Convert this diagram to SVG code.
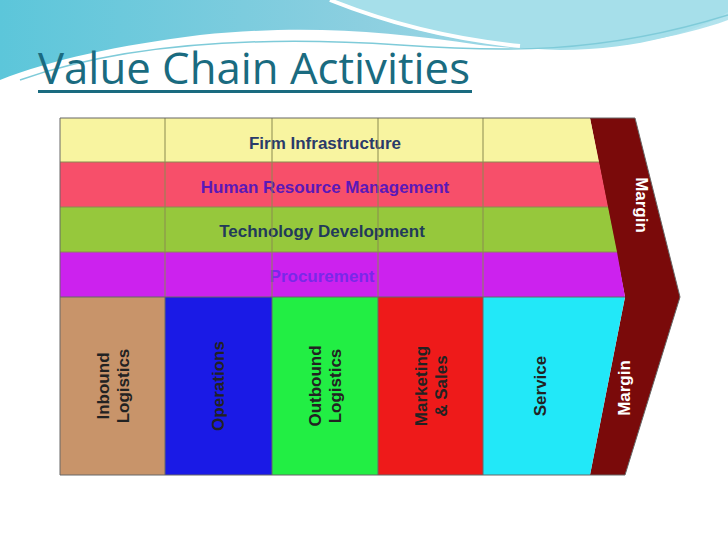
<svg xmlns="http://www.w3.org/2000/svg" width="728" height="546" viewBox="0 0 728 546">
<defs>
<linearGradient id="wv" x1="0" y1="0" x2="1" y2="0"><stop offset="0" stop-color="#5cc6da"/><stop offset="0.5" stop-color="#8ccfe0"/><stop offset="1" stop-color="#b4e4ee"/></linearGradient>
<style>
.lbl{font-family:"Liberation Sans",Arial,sans-serif;font-weight:bold;font-size:17px;text-anchor:middle}
.vl{font-family:"Liberation Sans",Arial,sans-serif;font-weight:bold;font-size:17px;text-anchor:middle;fill:#222}
.sep{stroke:#8a8a50;stroke-width:1}
</style>
</defs>
<rect width="728" height="546" fill="#fff"/>
<g id="background">
<path d="M0 0 H728 V20 C660 45 560 55 480 45 C380 30 300 25 200 35 C120 45 50 60 0 80 Z" fill="url(#wv)"/>
<path d="M330 0 C400 30 480 48 560 50 C640 50 700 30 728 12 V0 Z" fill="#a6dfea"/>
<path d="M330 0 C380 20 440 38 520 46" stroke="#fff" stroke-width="4" fill="none"/>
<path d="M20 80 C120 45 250 35 400 45 C500 52 600 55 728 15" stroke="#7fcbd9" stroke-width="1.5" fill="none"/>
</g>
<g id="title">
<text x="38" y="84" font-family="Open Sans,'Liberation Sans',sans-serif" font-size="43" fill="#1a6b80" textLength="432" lengthAdjust="spacingAndGlyphs">Value Chain Activities</text>
<rect x="38" y="90" width="434" height="3" fill="#1a6b80"/>
</g>
<g id="margin"><path d="M590 118 H635 L680 297 L625 475 H590 L625 297 Z" fill="#7a0a0a"/>
<text class="lbl" fill="#fff" transform="translate(636 205) rotate(90)">Margin</text>
<text class="lbl" fill="#fff" transform="translate(630 388) rotate(-90)">Margin</text></g>
<g id="firm"><path d="M60 118 H590 L599 162 H60 Z" fill="#f8f4a0"/><text class="lbl" x="325" y="149" fill="#2a3a6a">Firm Infrastructure</text></g>
<g id="hrm"><path d="M60 162 H599 L608 207 H60 Z" fill="#f74f6a"/><text class="lbl" x="325" y="193" fill="#5a18b8">Human Resource Management</text></g>
<g id="tech"><path d="M60 207 H608 L617 252 H60 Z" fill="#96c83c"/><text class="lbl" x="322" y="237" fill="#223a5a">Technology Development</text></g>
<g id="proc"><path d="M60 252 H617 L625 297 H60 Z" fill="#cc22ee"/><text class="lbl" x="322" y="282" fill="#7a28e8">Procurement</text></g>
<g id="lines">
<line class="sep" x1="165" y1="118" x2="165" y2="297"/><line class="sep" x1="272" y1="118" x2="272" y2="297"/>
<line class="sep" x1="378" y1="118" x2="378" y2="297"/><line class="sep" x1="483" y1="118" x2="483" y2="297"/>
<line class="sep" x1="60" y1="162" x2="599" y2="162"/><line class="sep" x1="60" y1="207" x2="608" y2="207"/><line class="sep" x1="60" y1="252" x2="617" y2="252"/>
</g>
<g id="inbound"><rect x="60" y="297" width="105" height="178" fill="#c8946a"/><text class="vl" transform="translate(112 386) rotate(-90)"><tspan x="0" dy="-3">Inbound</tspan><tspan x="0" dy="20">Logistics</tspan></text></g>
<g id="operations"><rect x="165" y="297" width="107" height="178" fill="#1a1ae6"/><text class="vl" transform="translate(224 386) rotate(-90)">Operations</text></g>
<g id="outbound"><rect x="272" y="297" width="106" height="178" fill="#22ee44"/><text class="vl" transform="translate(324 386) rotate(-90)"><tspan x="0" dy="-3">Outbound</tspan><tspan x="0" dy="20">Logistics</tspan></text></g>
<g id="marketing"><rect x="378" y="297" width="105" height="178" fill="#ee1a1a"/><text class="vl" transform="translate(430 386) rotate(-90)"><tspan x="0" dy="-3">Marketing</tspan><tspan x="0" dy="20">&amp; Sales</tspan></text></g>
<g id="service"><path d="M483 297 H625 L590 475 H483 Z" fill="#22e8f8"/><text class="vl" transform="translate(546 386) rotate(-90)">Service</text></g>
<g id="borders" fill="none" stroke="#666" stroke-width="1">
<path d="M60 118 H635 L680 297 L625 475 H60 Z"/>
<line x1="60" y1="297" x2="625" y2="297"/>
<line x1="165" y1="297" x2="165" y2="475"/><line x1="272" y1="297" x2="272" y2="475"/><line x1="378" y1="297" x2="378" y2="475"/><line x1="483" y1="297" x2="483" y2="475"/>
</g>
</svg>
